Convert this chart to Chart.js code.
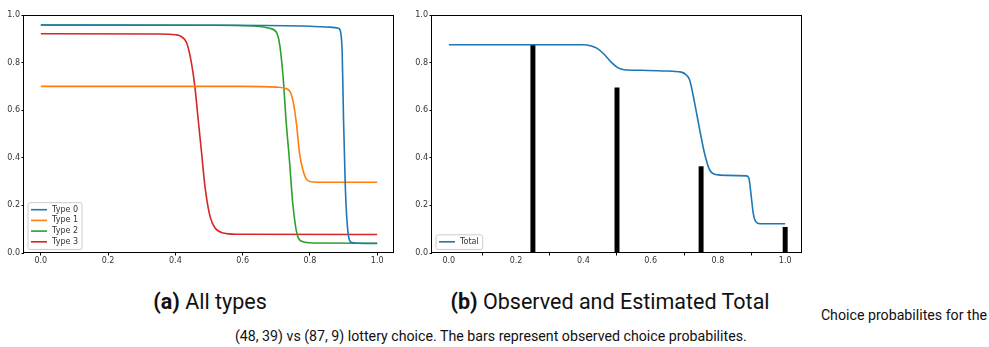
<!DOCTYPE html>
<html>
<head>
<meta charset="utf-8">
<script src="https://cdn.jsdelivr.net/npm/chart.js@4.4.0/dist/chart.umd.min.js"></script>
<style>
  body { margin: 0; background: #fff; width: 989px; height: 347px; position: relative; overflow: hidden; font-family: Roboto, sans-serif; color: #111; }
  canvas { position: absolute; top: 0; }
  #chartA { left: 0; }
  #chartB { left: 410px; }
  .cap { position: absolute; white-space: nowrap; }
  .sub { font-size: 21.5px; top: 289px; transform: translateX(-50%); }
  .sub b { font-weight: 700; }
  #capA { left: 210px; }
  #capB { left: 610px; }
  .note { font-size: 14.2px; }
  #note1 { right: 2px; top: 307px; }
  #note2 { left: 235px; top: 328px; }
</style>
</head>
<body>
<canvas id="chartA" width="410" height="275"></canvas>
<canvas id="chartB" width="410" height="275"></canvas>
<div class="cap sub" id="capA"><b>(a)</b> All types</div>
<div class="cap sub" id="capB"><b>(b)</b> Observed and Estimated Total</div>
<div class="cap note" id="note1">Choice probabilites for the</div>
<div class="cap note" id="note2">(48, 39) vs (87, 9) lottery choice. The bars represent observed choice probabilites.</div>
<script>
// estimated choice probability per type, [x, p]
const type0 = [[0, 0.958], [0.5, 0.957], [0.8, 0.953], [0.86, 0.949], [0.885, 0.944], [0.892, 0.923],
  [0.896, 0.84], [0.9, 0.56], [0.905, 0.29], [0.91, 0.14], [0.915, 0.07], [0.922, 0.045], [0.94, 0.041], [1, 0.04]];
const type1 = [[0, 0.70], [0.6, 0.70], [0.7, 0.697], [0.726, 0.692], [0.741, 0.678], [0.751, 0.63], [0.761, 0.531],
  [0.769, 0.42], [0.779, 0.35], [0.791, 0.308], [0.81, 0.298], [0.85, 0.297], [1, 0.297]];
const type2 = [[0, 0.958], [0.5, 0.957], [0.632, 0.954], [0.68, 0.944], [0.701, 0.926], [0.711, 0.867], [0.721, 0.727],
  [0.729, 0.559], [0.739, 0.392], [0.749, 0.21], [0.761, 0.084], [0.776, 0.049], [0.81, 0.042], [1, 0.041]];
const type3 = [[0, 0.921], [0.35, 0.92], [0.4, 0.917], [0.414, 0.912], [0.434, 0.881], [0.448, 0.797], [0.458, 0.699],
  [0.468, 0.559], [0.478, 0.42], [0.488, 0.28], [0.503, 0.154], [0.518, 0.105], [0.543, 0.084], [0.58, 0.079], [1, 0.078]];
const total = [[0, 0.875], [0.4, 0.875], [0.421, 0.871], [0.441, 0.86], [0.461, 0.836], [0.481, 0.804], [0.501, 0.78],
  [0.521, 0.77], [0.571, 0.768], [0.641, 0.765], [0.691, 0.76], [0.706, 0.748], [0.716, 0.727], [0.731, 0.629],
  [0.746, 0.517], [0.76, 0.42], [0.775, 0.35], [0.79, 0.331], [0.83, 0.326], [0.885, 0.324], [0.892, 0.315],
  [0.898, 0.252], [0.905, 0.168], [0.912, 0.133], [0.925, 0.123], [1, 0.123]];
// observed shares
const observedX = [0.25, 0.5, 0.75, 1.0];
const observedY = [0.875, 0.694, 0.363, 0.108];

const typeLabels = ['Type 0', 'Type 1', 'Type 2', 'Type 3'];
const typeColors = ['#1f77b4', '#ff7f0e', '#2ca02c', '#d62728'];
const xTicks = [0, 0.2, 0.4, 0.6, 0.8, 1.0];
const yTicks = [0, 0.2, 0.4, 0.6, 0.8, 1.0];

Chart.defaults.font.family = '"DejaVu Sans", sans-serif';
Chart.defaults.font.size = 8;
Chart.defaults.color = '#333';

const toXY = (pts) => pts.map(p => ({ x: p[0], y: p[1] }));

// black box round the plot area
const frame = {
  id: 'frame',
  afterDraw(chart) {
    const a = chart.chartArea;
    const ctx = chart.ctx;
    ctx.save();
    ctx.strokeStyle = '#000';
    ctx.lineWidth = 1;
    ctx.strokeRect(Math.round(a.left) - 0.5, Math.round(a.top) + 0.5,
      Math.round(a.right) - Math.round(a.left), Math.round(a.bottom) - Math.round(a.top) - 1);
    ctx.restore();
  }
};

// matplotlib style legend in the lower left corner
const boxLegend = {
  id: 'boxLegend',
  afterDatasetsDraw(chart) {
    const ctx = chart.ctx;
    const a = chart.chartArea;
    const items = chart.data.datasets.filter(d => d.type !== 'bar');
    const rowH = 10.7;
    ctx.save();
    ctx.font = '8px "DejaVu Sans", sans-serif';
    const tw = Math.max(...items.map(d => ctx.measureText(d.label).width));
    const w = tw + 28;
    const h = items.length * rowH + 4;
    const x = a.left + 4;
    const y = a.bottom - 3.5 - h;
    ctx.beginPath();
    ctx.roundRect(x, y, w, h, 2);
    ctx.fillStyle = 'rgba(255,255,255,0.8)';
    ctx.fill();
    ctx.strokeStyle = '#cccccc';
    ctx.lineWidth = 1;
    ctx.stroke();
    items.forEach((d, i) => {
      const cy = y + 7 + i * rowH;
      ctx.strokeStyle = d.borderColor;
      ctx.lineWidth = 1.6;
      ctx.beginPath();
      ctx.moveTo(x + 3, cy);
      ctx.lineTo(x + 19, cy);
      ctx.stroke();
      ctx.fillStyle = '#333';
      ctx.textBaseline = 'middle';
      ctx.fillText(d.label, x + 24, cy);
    });
    ctx.restore();
  }
};

function axes(yWidth) {
  return {
    x: {
      type: 'linear', min: -0.05, max: 1.05, offset: false,
      afterBuildTicks: (s) => { s.ticks = xTicks.map(v => ({ value: v })); },
      afterFit: (s) => { s.height = 20; },
      ticks: { padding: 1, maxRotation: 0, callback: v => v.toFixed(1) },
      grid: { drawOnChartArea: false, drawTicks: true, tickLength: 2.5, color: '#000' },
      border: { display: false }
    },
    y: {
      type: 'linear', min: 0, max: 1,
      afterBuildTicks: (s) => { s.ticks = yTicks.map(v => ({ value: v })); },
      afterFit: (s) => { s.width = yWidth; },
      ticks: { padding: 1.5, callback: v => v.toFixed(1) },
      grid: { drawOnChartArea: false, drawTicks: true, tickLength: 2.5, color: '#000' },
      border: { display: false }
    }
  };
}

function lineSet(label, color, pts) {
  return {
    type: 'line', label: label, data: toXY(pts),
    borderColor: color, borderWidth: 1.6, pointRadius: 0,
    cubicInterpolationMode: 'monotone', fill: false
  };
}

new Chart(document.querySelector('#chartA'), {
  type: 'line',
  data: {
    datasets: [type0, type1, type2, type3].map((pts, i) => lineSet(typeLabels[i], typeColors[i], pts))
  },
  options: {
    responsive: false, animation: false,
    layout: { padding: { left: 0, right: 16, top: 15, bottom: 2 } },
    plugins: { legend: { display: false }, tooltip: { enabled: false } },
    scales: axes(24)
  },
  plugins: [frame, boxLegend]
});

new Chart(document.querySelector('#chartB'), {
  type: 'line',
  data: {
    datasets: [
      lineSet('Total', '#1f77b4', total),
      {
        type: 'bar', label: 'observed',
        data: observedX.map((x, i) => ({ x: x, y: observedY[i] })),
        backgroundColor: '#000', barThickness: 4.3, grouped: false
      }
    ]
  },
  options: {
    responsive: false, animation: false,
    layout: { padding: { left: 0, right: 18, top: 15, bottom: 2 } },
    plugins: { legend: { display: false }, tooltip: { enabled: false } },
    scales: axes(22)
  },
  plugins: [frame, boxLegend]
});
</script>
</body>
</html>
